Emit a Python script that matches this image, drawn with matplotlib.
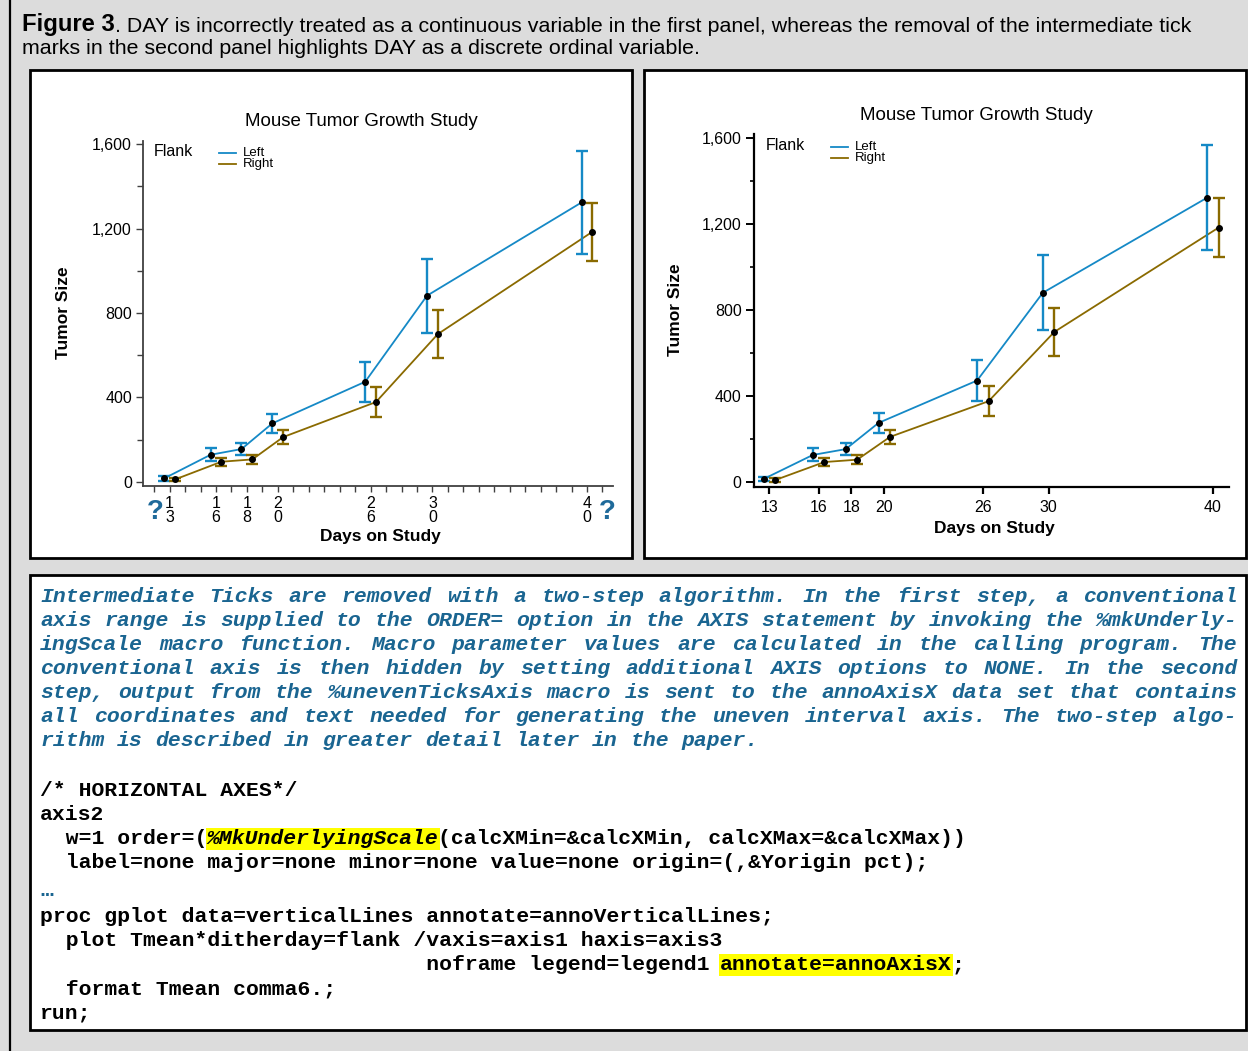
import matplotlib
matplotlib.use('Agg')
from matplotlib import pyplot as plt
from matplotlib.patches import Rectangle
from matplotlib.lines import Line2D
from matplotlib.text import Annotation

W, H = 1248, 1051

# data
days = [13, 16, 18, 20, 26, 30, 40]
leftMean = [16, 128, 155, 277, 474, 882, 1324]
leftErr = [10, 30, 29, 45, 94, 175, 245]
rightMean = [11, 95, 106, 212, 378, 700, 1185]
rightErr = [8, 19, 22, 32, 69, 113, 138]
flanks = ['Left', 'Right']
flankColors = ['#1589c6', '#8a6a00']
ditherShift = [-0.35, 0.35]
yTicks = [0, 400, 800, 1200, 1600]
yMinor = [200, 600, 1000, 1400]
allDays = list(range(12, 42))

title = 'Mouse Tumor Growth Study'
captionBold = 'Figure 3'
captionRest = '. DAY is incorrectly treated as a continuous variable in the first panel, whereas the removal of the intermediate tick'
captionLine2 = 'marks in the second panel highlights DAY as a discrete ordinal variable.'

paraLines = [
    'Intermediate Ticks are removed with a two-step algorithm. In the first step, a conventional',
    'axis range is supplied to the ORDER= option in the AXIS statement by invoking the %mkUnderly-',
    'ingScale macro function. Macro parameter values are calculated in the calling program. The',
    'conventional axis is then hidden by setting additional AXIS options to NONE. In the second',
    'step, output from the %unevenTicksAxis macro is sent to the annoAxisX data set that contains',
    'all coordinates and text needed for generating the uneven interval axis. The two-step algo-',
    'rithm is described in greater detail later in the paper.',
]
codeLines = [
    '/* HORIZONTAL AXES*/',
    'axis2',
    '  w=1 order=(%MkUnderlyingScale(calcXMin=&calcXMin, calcXMax=&calcXMax))',
    '  label=none major=none minor=none value=none origin=(,&Yorigin pct);',
    '\u2026',
    'proc gplot data=verticalLines annotate=annoVerticalLines;',
    '  plot Tmean*ditherday=flank /vaxis=axis1 haxis=axis3',
    '                              noframe legend=legend1 annotate=annoAxisX;',
    '  format Tmean comma6.;',
    'run;',
]
# (line, highlighted text, italic)
highlights = [(2, '%MkUnderlyingScale', True), (7, 'annotate=annoAxisX', False)]

paraY = [597, 621, 645, 669, 693, 717, 741]
codeY = [791, 815, 839, 863, 891, 917, 941, 965, 989, 1013]

sans = ['Liberation Sans', 'DejaVu Sans']
mono = ['Liberation Mono', 'DejaVu Sans Mono']
blueText = '#1a6591'

fig = plt.figure(figsize=(W/100, H/100), dpi=100, facecolor='#dcdcdc')

def fx(x):
    return x/W
def fy(y):
    return 1 - y/H

def box(l, t, r, b, lw=2.0, fc='white'):
    fig.add_artist(Rectangle((fx(l), fy(b)), (r-l)/W, (b-t)/H, transform=fig.transFigure,
                             facecolor=fc, edgecolor='black', lw=lw, zorder=0))

# outer border and the three boxes
fig.add_artist(Line2D([fx(9.5), fx(9.5)], [0, 1], transform=fig.transFigure, color='black', lw=1.6))
box(30, 70, 632, 558)
box(644, 70, 1246, 558)
box(30, 575, 1246, 1030)

# caption
t1 = fig.text(fx(22), fy(24), captionBold, fontsize=17.2, fontweight='bold', family=sans, va='center')
fig.add_artist(Annotation(captionRest, xy=(1, 0), xycoords=t1, fontsize=15.4, family=sans,
                          va='bottom', ha='left'))
fig.text(fx(22), fy(48), captionLine2, fontsize=15.4, family=sans, va='center')


def pxAxes(l, t, r, b):
    return fig.add_axes([fx(l), fy(b), (r-l)/W, (b-t)/H])


def drawData(ax):
    series = [(leftMean, leftErr), (rightMean, rightErr)]
    for i, (mean, err) in enumerate(series):
        x = [d + ditherShift[i] for d in days]
        ax.plot(x, mean, color=flankColors[i], lw=1.3, zorder=2)
        ax.errorbar(x, mean, yerr=err, fmt='none', ecolor=flankColors[i], elinewidth=1.7,
                    capsize=4.2, capthick=1.7, zorder=3)
        ax.plot(x, mean, 'o', color='black', ms=4, zorder=4)


def commaFmt(v):
    return '{:,}'.format(v)

# ---- left panel: continuous day axis
ax1 = pxAxes(143, 141, 613, 486)
ax1.set_facecolor('none')
drawData(ax1)
ax1.set_xlim(11.28, 41.68)
ax1.set_ylim(-20, 1615)
for s in ['top', 'right']:
    ax1.spines[s].set_visible(False)
for s in ['left', 'bottom']:
    ax1.spines[s].set_color('#404040')
    ax1.spines[s].set_linewidth(1.3)
ax1.set_xticks(allDays)
ax1.set_xticklabels(['\n'.join(str(d)) if d in days else '' for d in allDays],
                    linespacing=0.9, family=sans, fontsize=11.5)
ax1.tick_params(axis='x', length=4, width=1, color='#404040', pad=3)
ax1.set_yticks(yTicks)
ax1.set_yticklabels([commaFmt(v) for v in yTicks], family=sans, fontsize=11.5)
ax1.set_yticks(yMinor, minor=True)
ax1.tick_params(axis='y', which='major', length=5, width=1, color='#404040', pad=3)
ax1.tick_params(axis='y', which='minor', length=4, width=1, color='#404040')

# ---- right panel: uneven ticks only at measured days
ax2 = pxAxes(754, 134, 1229, 487)
ax2.set_facecolor('none')
drawData(ax2)
ax2.set_xlim(12.07, 40.98)
ax2.set_ylim(-21, 1620)
for s in ['top', 'right']:
    ax2.spines[s].set_visible(False)
for s in ['left', 'bottom']:
    ax2.spines[s].set_linewidth(1.6)
ax2.set_xticks(days)
ax2.set_xticklabels([str(d) for d in days], family=sans, fontsize=11.5)
ax2.tick_params(axis='x', length=5, width=1.6, pad=4)
ax2.set_yticks(yTicks)
ax2.set_yticklabels([commaFmt(v) for v in yTicks], family=sans, fontsize=11.5)
ax2.set_yticks(yMinor, minor=True)
ax2.tick_params(axis='y', which='major', length=6, width=1.4, pad=3)
ax2.tick_params(axis='y', which='minor', length=3, width=1.2)

# titles, axis labels, legends
for (tx, ty), (yx, yy), (xx, xy) in [((361, 122), (64, 313), (380, 537)),
                                      ((976, 115), (675, 310), (994, 529))]:
    fig.text(fx(tx), fy(ty), title, fontsize=13.5, family=sans, ha='center', va='center')
    fig.text(fx(yx), fy(yy), 'Tumor Size', fontsize=12.5, fontweight='bold', family=sans,
             rotation=90, ha='center', va='center')
    fig.text(fx(xx), fy(xy), 'Days on Study', fontsize=12.5, fontweight='bold', family=sans,
             ha='center', va='center')

for (lx, ly) in [(154, 152), (766, 146)]:
    fig.text(fx(lx), fy(ly), 'Flank', fontsize=11.5, family=sans, ha='left', va='center')
    for i, name in enumerate(flanks):
        yy = ly + 1 + i*10.5
        fig.add_artist(Line2D([fx(lx+65), fx(lx+82)], [fy(yy), fy(yy)], transform=fig.transFigure,
                              color=flankColors[i], lw=1.3))
        fig.text(fx(lx+89), fy(yy+0.5), name, fontsize=9.5, family=sans, ha='left', va='center')

# question marks on the continuous axis
for qx in [155, 607]:
    fig.text(fx(qx), fy(512), '?', fontsize=20, fontweight='bold', family=sans,
             color='#1f6a9a', ha='center', va='center')

# paragraph, justified monospace
fs = 15.4
cw = fs*100/72*0.6
x0, x1 = 40, 1237
for k, (line, y) in enumerate(zip(paraLines, paraY)):
    words = line.split(' ')
    nchar = sum(len(w) for w in words)
    if k < len(paraLines) - 1:
        gap = (x1 - x0 - nchar*cw) / (len(words) - 1)
    else:
        gap = cw
    x = x0
    for w in words:
        fig.text(fx(x), fy(y), w, fontsize=fs, family=mono, fontweight='bold', style='italic',
                 color=blueText, ha='left', va='center')
        x += len(w)*cw + gap

# code block
for k, (line, y) in enumerate(zip(codeLines, codeY)):
    hl = [h for h in highlights if h[0] == k]
    color = blueText if line == '\u2026' else 'black'
    if not hl:
        fig.text(fx(x0), fy(y), line, fontsize=fs, family=mono, fontweight='bold',
                 color=color, ha='left', va='center')
        continue
    _, seg, ital = hl[0]
    start = line.index(seg)
    before, after = line[:start], line[start+len(seg):]
    fig.text(fx(x0), fy(y), before, fontsize=fs, family=mono, fontweight='bold',
             ha='left', va='center')
    fig.text(fx(x0 + start*cw), fy(y), seg, fontsize=fs, family=mono, fontweight='bold',
             style='italic' if ital else 'normal', ha='left', va='center',
             bbox=dict(facecolor='#ffff00', edgecolor='none', pad=1))
    fig.text(fx(x0 + (start+len(seg))*cw), fy(y), after, fontsize=fs, family=mono,
             fontweight='bold', ha='left', va='center')

fig.savefig('out.png', dpi=100, facecolor=fig.get_facecolor())
